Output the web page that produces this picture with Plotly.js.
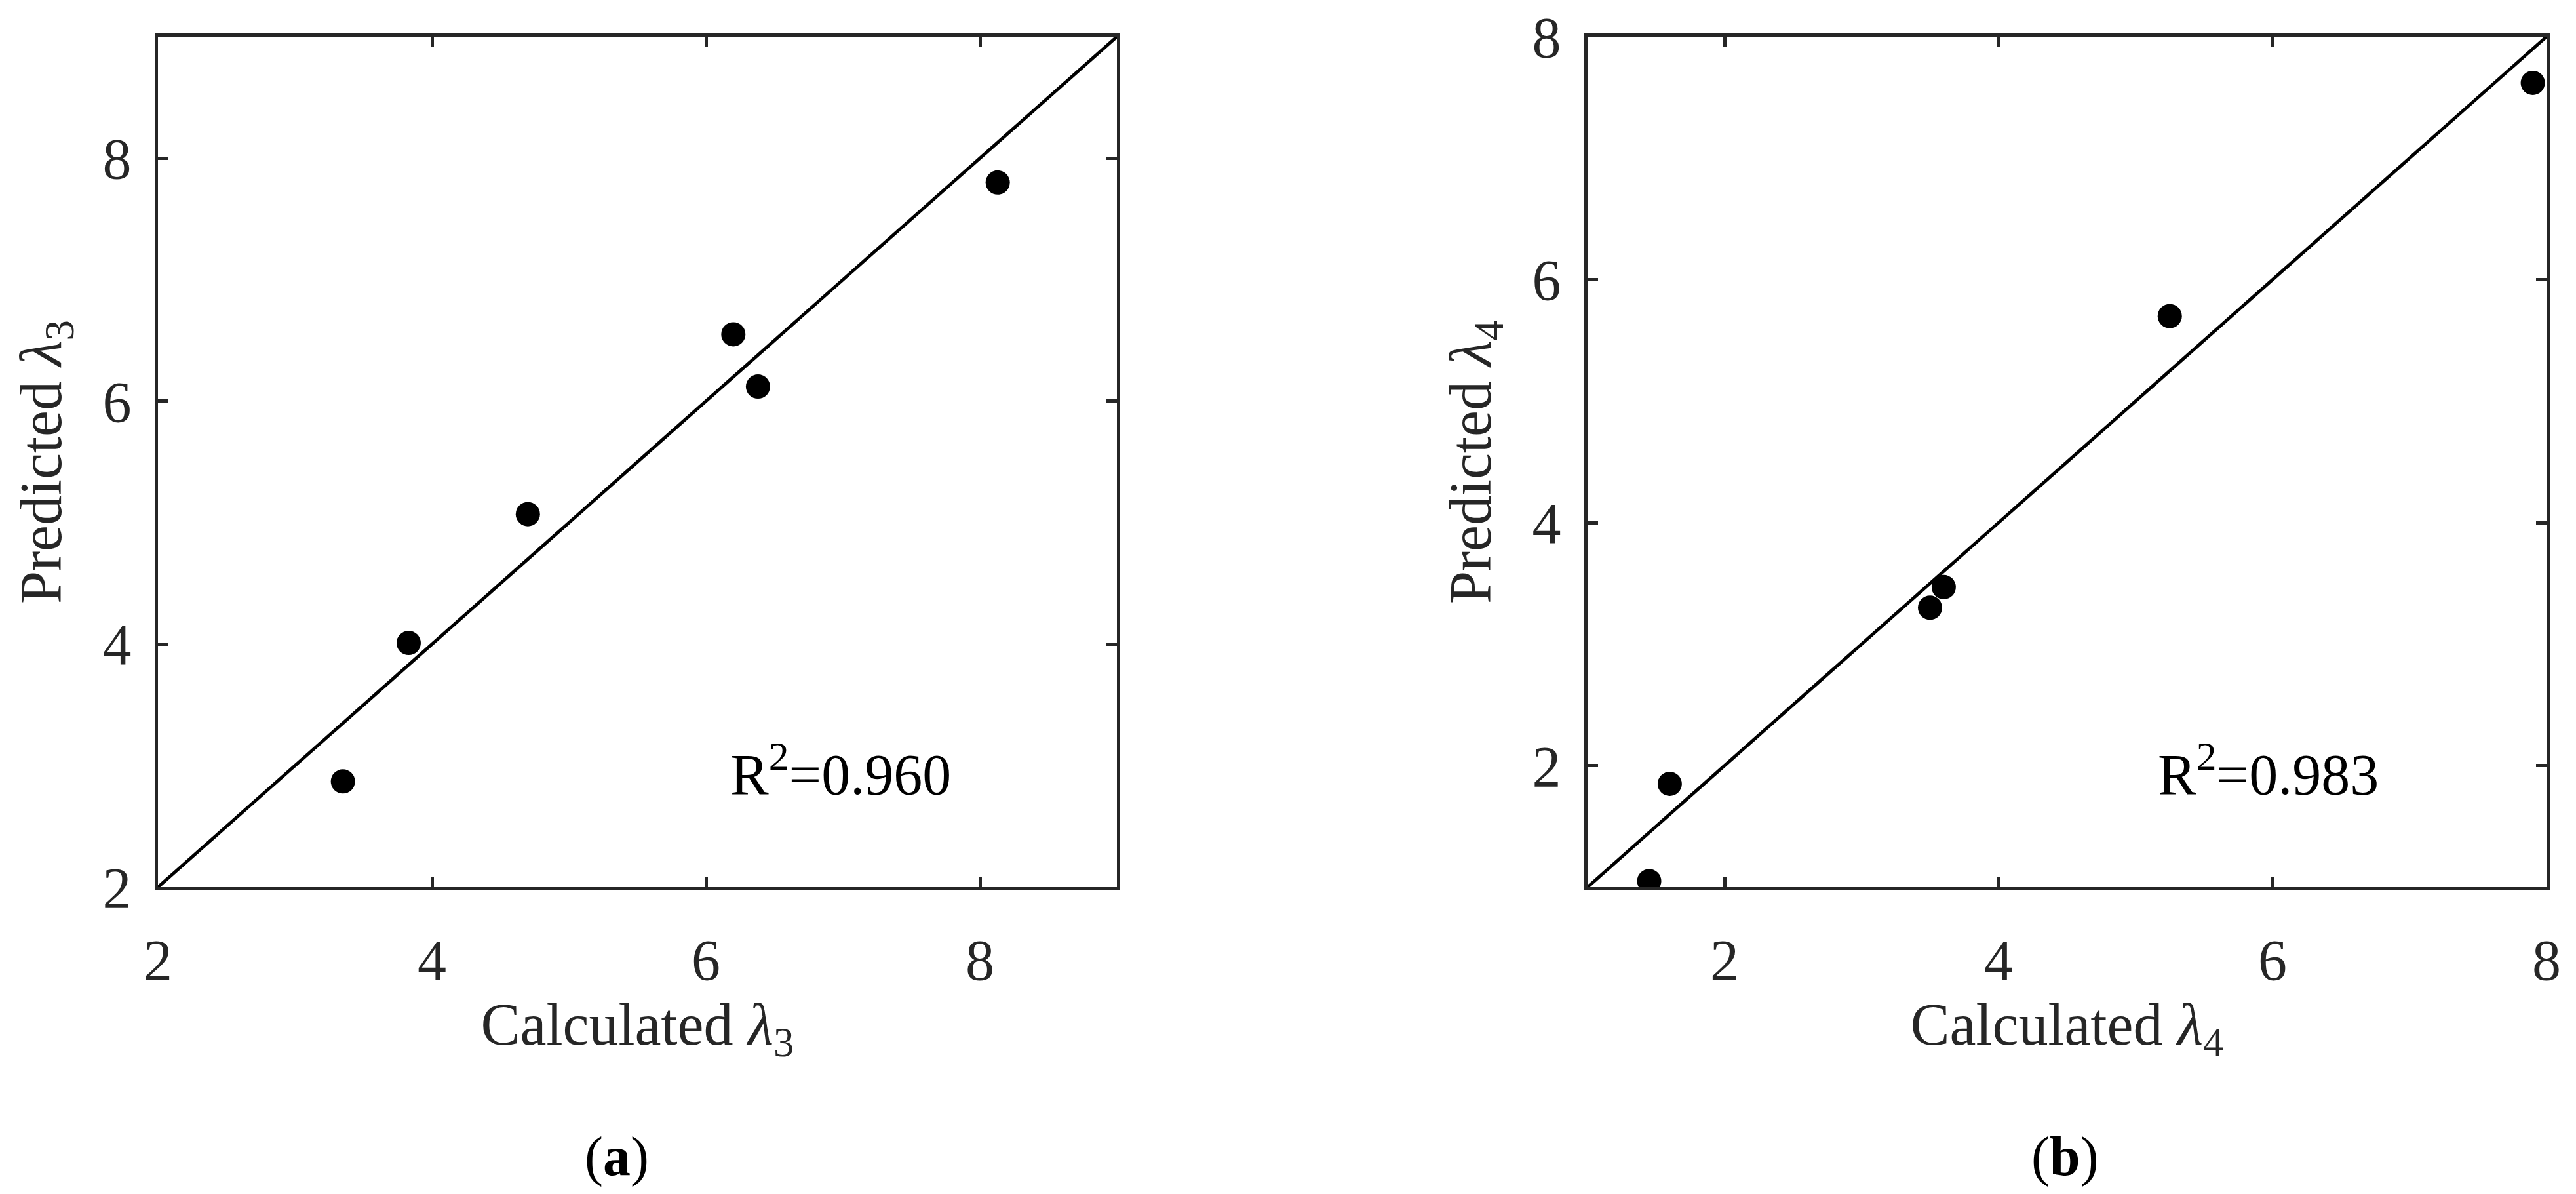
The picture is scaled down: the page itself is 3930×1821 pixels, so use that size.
<!DOCTYPE html>
<html>
<head>
<meta charset="utf-8">
<script src="https://cdn.plot.ly/plotly-3.0.1.min.js"></script>
<style>html,body{margin:0;padding:0;background:#fff;}#chart{width:3930px;height:1821px;}</style>
</head>
<body>
<div id="chart"></div>
<script>
// Panel (a): lambda 3
var calcL3 = [3.35, 3.83, 4.70, 6.20, 6.38, 8.13];
var predL3 = [2.87, 4.01, 5.07, 6.55, 6.12, 7.80];
var diagA = [2, 9];
var r2A = "0.960";
// Panel (b): lambda 4
var calcL4 = [1.45, 1.60, 3.50, 3.60, 5.25, 7.90];
var predL4 = [1.05, 1.85, 3.30, 3.47, 5.70, 7.62];
var diagB = [1, 8];
var r2B = "0.983";
var tickVals = [2, 4, 6, 8];

var FONT = "Liberation Serif, Times New Roman, serif";
var INK = "#262626";

var traces = [
  {x: diagA, y: diagA, mode: "lines", line: {color: "#000", width: 5}, xaxis: "x", yaxis: "y", hoverinfo: "skip"},
  {x: calcL3, y: predL3, mode: "markers", marker: {color: "#000", size: 37}, xaxis: "x", yaxis: "y"},
  {x: diagB, y: diagB, mode: "lines", line: {color: "#000", width: 5}, xaxis: "x2", yaxis: "y2", hoverinfo: "skip"},
  {x: calcL4, y: predL4, mode: "markers", marker: {color: "#000", size: 37}, xaxis: "x2", yaxis: "y2"}
];

function ax(range, domain, anchor, title, isY) {
  return {
    range: range, domain: domain, anchor: anchor,
    tickvals: tickVals, ticks: "inside", ticklen: 16, tickwidth: 5, tickcolor: INK,
    showline: true, linecolor: INK, linewidth: 5, mirror: "allticks",
    showgrid: false, zeroline: false,
    tickfont: {family: FONT, size: 88, color: INK},
    ticklabelstandoff: isY ? 18 : 30,
    title: {text: title, font: {family: FONT, size: 90, color: INK}, standoff: isY ? 34 : 8},
    automargin: false, fixedrange: true
  };
}

var xdomA = [241/3930, 1704/3930];
var xdomB = [2422/3930, 3885/3930];
var ydom = [1 - 1353/1821, 1 - 56/1821];

var layout = {
  width: 3930, height: 1821,
  margin: {l: 0, r: 0, t: 0, b: 0},
  paper_bgcolor: "#fff", plot_bgcolor: "#fff",
  showlegend: false,
  font: {family: FONT, color: INK},
  xaxis: ax(diagA, xdomA, "y", "Calculated <i>λ</i><sub>3</sub>", false),
  yaxis: ax(diagA, ydom, "x", "Predicted <i>λ</i><sub>3</sub>", true),
  xaxis2: ax(diagB, xdomB, "y2", "Calculated <i>λ</i><sub>4</sub>", false),
  yaxis2: ax(diagB, ydom, "x2", "Predicted <i>λ</i><sub>4</sub>", true),
  annotations: [
    {xref: "paper", yref: "paper", x: 1112/3930, y: 1 - 1232/1821, xanchor: "left", yanchor: "bottom",
     text: "R<sup>2</sup>=" + r2A, showarrow: false, font: {family: FONT, size: 88, color: "#000"}},
    {xref: "paper", yref: "paper", x: 3290/3930, y: 1 - 1232/1821, xanchor: "left", yanchor: "bottom",
     text: "R<sup>2</sup>=" + r2B, showarrow: false, font: {family: FONT, size: 88, color: "#000"}},
    {xref: "paper", yref: "paper", x: 941/3930, y: 1 - 1764/1821, xanchor: "center", yanchor: "middle",
     text: "(<b>a</b>)", showarrow: false, font: {family: FONT, size: 84, color: "#000"}},
    {xref: "paper", yref: "paper", x: 3150/3930, y: 1 - 1764/1821, xanchor: "center", yanchor: "middle",
     text: "(<b>b</b>)", showarrow: false, font: {family: FONT, size: 84, color: "#000"}}
  ]
};

Plotly.newPlot("chart", traces, layout, {staticPlot: true, displayModeBar: false});
</script>
</body>
</html>
